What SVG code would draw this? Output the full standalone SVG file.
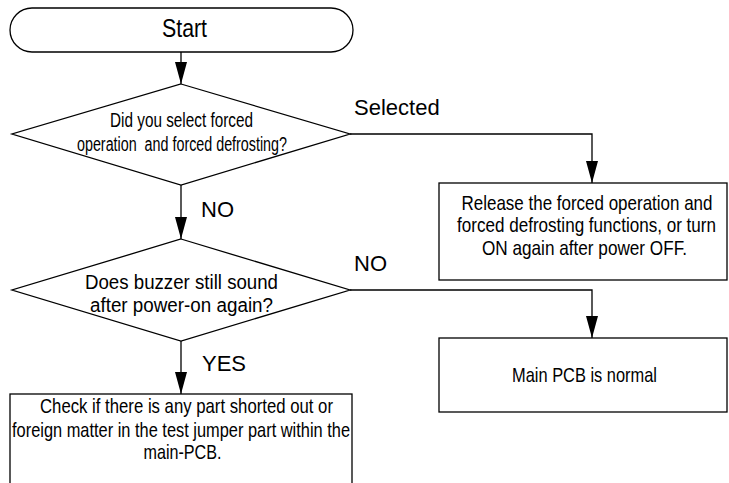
<svg xmlns="http://www.w3.org/2000/svg" width="729" height="483" viewBox="0 0 729 483">
<style>
.shape{fill:#fff;stroke:#000;stroke-width:1.3}
.line{fill:none;stroke:#000;stroke-width:1.3}
.t{font-family:"Liberation Sans",Arial,sans-serif;fill:#000;text-anchor:middle}
.n{font-size:21px}
.lbl{font-family:"Liberation Sans",Arial,sans-serif;fill:#000;font-size:22px}
</style>
<defs>
<marker id="arr" viewBox="0 0 22 12" refX="22" refY="6" markerWidth="22" markerHeight="12" markerUnits="userSpaceOnUse" orient="auto">
<path d="M0,0 L22,6 L0,12 z" fill="#000"/>
</marker>
</defs>
<rect width="729" height="483" fill="#fff"/>
<g id="connectors">
<path class="line" d="M181,52 V84" marker-end="url(#arr)"/>
<path class="line" d="M181,185 V239" marker-end="url(#arr)"/>
<path class="line" d="M350,134 H592 V183" marker-end="url(#arr)"/>
<path class="line" d="M350,290 H592 V338" marker-end="url(#arr)"/>
<path class="line" d="M181,341 V394" marker-end="url(#arr)"/>
<text class="lbl" x="354" y="115">Selected</text>
<text class="lbl" x="201" y="217">NO</text>
<text class="lbl" x="354" y="271">NO</text>
<text class="lbl" x="202" y="371">YES</text>
</g>
<g id="start">
<rect class="shape" x="10" y="8" width="343" height="44" rx="22" ry="22"/>
<text class="t" x="184.5" y="37" font-size="26" textLength="45" lengthAdjust="spacingAndGlyphs">Start</text>
</g>
<g id="decision1">
<polygon class="shape" points="181,84 350,134 181,185 12,134"/>
<text class="t" x="181.5" y="127" font-size="20" textLength="143" lengthAdjust="spacingAndGlyphs">Did you select forced</text>
<text class="t" x="182" y="151" font-size="20" textLength="210" lengthAdjust="spacingAndGlyphs" xml:space="preserve">operation  and forced defrosting?</text>
</g>
<g id="release">
<rect class="shape" x="439" y="183" width="288" height="97"/>
<text class="t n" x="587" y="210" textLength="251" lengthAdjust="spacingAndGlyphs">Release the forced operation and</text>
<text class="t n" x="586.5" y="232" textLength="259" lengthAdjust="spacingAndGlyphs">forced defrosting functions, or turn</text>
<text class="t n" x="584.5" y="255" textLength="205" lengthAdjust="spacingAndGlyphs">ON again after power OFF.</text>
</g>
<g id="decision2">
<polygon class="shape" points="181,239 350,290 181,341 12,290"/>
<text class="t" x="181.5" y="289" font-size="20" textLength="193" lengthAdjust="spacingAndGlyphs">Does buzzer still sound</text>
<text class="t" x="181.5" y="312" font-size="20" textLength="183" lengthAdjust="spacingAndGlyphs">after power-on again?</text>
</g>
<g id="normal">
<rect class="shape" x="439" y="338" width="288" height="74"/>
<text class="t n" x="584.5" y="382" textLength="145" lengthAdjust="spacingAndGlyphs">Main PCB is normal</text>
</g>
<g id="check">
<rect class="shape" x="10" y="394" width="342" height="100"/>
<text class="t n" x="186.5" y="413" textLength="293" lengthAdjust="spacingAndGlyphs">Check if there is any part shorted out or</text>
<text class="t n" x="181" y="437" textLength="338" lengthAdjust="spacingAndGlyphs">foreign matter in the test jumper part within the</text>
<text class="t n" x="182.5" y="459" textLength="78" lengthAdjust="spacingAndGlyphs">main-PCB.</text>
</g>
</svg>
